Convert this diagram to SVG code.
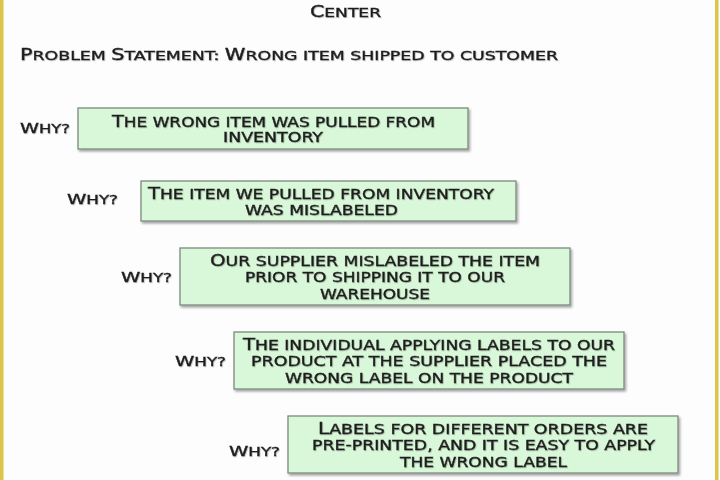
<svg xmlns="http://www.w3.org/2000/svg" width="720" height="480" viewBox="0 0 720 480">
<defs>
<filter id="sh" x="-5%" y="-10%" width="112%" height="130%">
<feDropShadow dx="1.5" dy="2" stdDeviation="1.2" flood-color="#000" flood-opacity="0.35"/>
</filter>
<filter id="ts" x="-5%" y="-20%" width="110%" height="150%">
<feDropShadow dx="0.8" dy="0.8" stdDeviation="0.6" flood-color="#000" flood-opacity="0.25"/>
</filter>
</defs>
<style>
text{font-family:"DejaVu Sans","Liberation Sans",sans-serif;fill:#1e1e1e;stroke:#1e1e1e;stroke-width:0.35px;}
.box{fill:#d9f7d9;stroke:#7d8a7d;stroke-width:1.3;filter:url(#sh);}
.bt{font-size:13.5px;text-anchor:middle;filter:url(#ts);}
.bt .c{font-size:15.5px;}
.why{font-size:12px;filter:url(#ts);}
.why .c{font-size:14px;}
.hd{font-size:12.5px;filter:url(#ts);}
.hd .c{font-size:15px;}
</style>
<rect x="0" y="0" width="720" height="480" fill="#fdfdfd"/>
<rect x="0" y="0" width="3.5" height="480" fill="#dcc64a"/>
<rect x="715" y="0" width="3.5" height="480" fill="#dcc64a"/>

<g id="title">
<text class="hd" x="310" y="17" textLength="71" lengthAdjust="spacingAndGlyphs"><tspan class="c">C</tspan>ENTER</text>
</g>
<g id="problem">
<text class="hd" x="20" y="60" textLength="538" lengthAdjust="spacingAndGlyphs"><tspan class="c">P</tspan>ROBLEM <tspan class="c">S</tspan>TATEMENT:  <tspan class="c">W</tspan>RONG ITEM SHIPPED TO CUSTOMER</text>
</g>

<g id="why1">
<text class="why" x="20" y="133" textLength="50" lengthAdjust="spacingAndGlyphs"><tspan class="c">W</tspan>HY?</text>
<rect class="box" x="78" y="108" width="390" height="41"/>
<text class="bt" x="273.5" y="127" textLength="323" lengthAdjust="spacingAndGlyphs"><tspan class="c">T</tspan>HE WRONG ITEM WAS PULLED FROM</text>
<text class="bt" x="273" y="142" textLength="100" lengthAdjust="spacingAndGlyphs">INVENTORY</text>
</g>

<g id="why2">
<text class="why" x="67" y="204" textLength="51" lengthAdjust="spacingAndGlyphs"><tspan class="c">W</tspan>HY?</text>
<rect class="box" x="141" y="181" width="375" height="40"/>
<text class="bt" x="321" y="199" textLength="346" lengthAdjust="spacingAndGlyphs"><tspan class="c">T</tspan>HE ITEM WE PULLED FROM INVENTORY</text>
<text class="bt" x="321.5" y="215" textLength="153" lengthAdjust="spacingAndGlyphs">WAS MISLABELED</text>
</g>

<g id="why3">
<text class="why" x="121" y="282" textLength="51" lengthAdjust="spacingAndGlyphs"><tspan class="c">W</tspan>HY?</text>
<rect class="box" x="180" y="248" width="390" height="57"/>
<text class="bt" x="375" y="266" textLength="330" lengthAdjust="spacingAndGlyphs"><tspan class="c">O</tspan>UR SUPPLIER MISLABELED THE ITEM</text>
<text class="bt" x="375" y="282" textLength="260" lengthAdjust="spacingAndGlyphs">PRIOR TO SHIPPING IT TO OUR</text>
<text class="bt" x="375" y="299" textLength="110" lengthAdjust="spacingAndGlyphs">WAREHOUSE</text>
</g>

<g id="why4">
<text class="why" x="175" y="366" textLength="51" lengthAdjust="spacingAndGlyphs"><tspan class="c">W</tspan>HY?</text>
<rect class="box" x="234" y="332" width="390" height="57"/>
<text class="bt" x="429" y="350" textLength="372" lengthAdjust="spacingAndGlyphs"><tspan class="c">T</tspan>HE INDIVIDUAL APPLYING LABELS TO OUR</text>
<text class="bt" x="429" y="366" textLength="356" lengthAdjust="spacingAndGlyphs">PRODUCT AT THE SUPPLIER PLACED THE</text>
<text class="bt" x="429" y="383" textLength="288" lengthAdjust="spacingAndGlyphs">WRONG LABEL ON THE PRODUCT</text>
</g>

<g id="why5">
<text class="why" x="229" y="456" textLength="51" lengthAdjust="spacingAndGlyphs"><tspan class="c">W</tspan>HY?</text>
<rect class="box" x="288" y="416" width="390" height="57"/>
<text class="bt" x="483" y="434" textLength="330" lengthAdjust="spacingAndGlyphs"><tspan class="c">L</tspan>ABELS FOR DIFFERENT ORDERS ARE</text>
<text class="bt" x="483.5" y="450" textLength="343" lengthAdjust="spacingAndGlyphs">PRE-PRINTED, AND IT IS EASY TO APPLY</text>
<text class="bt" x="483.5" y="467" textLength="167" lengthAdjust="spacingAndGlyphs">THE WRONG LABEL</text>
</g>

<g id="connectors"></g>
</svg>
